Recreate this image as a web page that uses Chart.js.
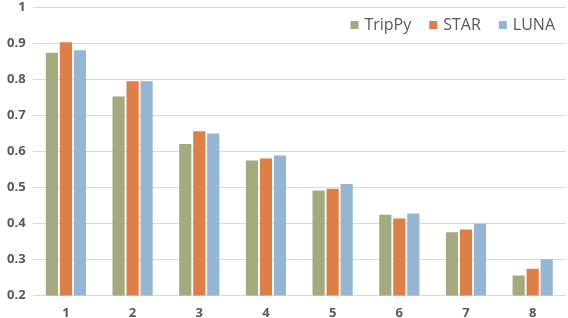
<!DOCTYPE html>
<html>
<head>
<meta charset="utf-8">
<script src="https://cdn.jsdelivr.net/npm/chart.js@4/dist/chart.umd.min.js"></script>
<style>
  html, body { margin: 0; padding: 0; background: #fff; }
  #wrap { width: 568px; height: 318px; }
</style>
</head>
<body>
<div id="wrap"><canvas id="chart"></canvas></div>
<script>
const categories = ['1', '2', '3', '4', '5', '6', '7', '8'];
const tripPy = [0.873, 0.752, 0.620, 0.574, 0.491, 0.424, 0.375, 0.255];
const star   = [0.902, 0.794, 0.655, 0.580, 0.496, 0.413, 0.383, 0.274];
const luna   = [0.880, 0.794, 0.649, 0.588, 0.509, 0.427, 0.399, 0.300];

const FONT = '"Open Sans", "Liberation Sans", sans-serif';
const GREY = '#595959';

// legend drawn inside the plot, top right
const insideLegend = {
  id: 'insideLegend',
  afterDraw(chart) {
    const ctx = chart.ctx;
    const sets = chart.data.datasets;
    ctx.save();
    ctx.font = '16px ' + FONT;
    ctx.textBaseline = 'middle';
    const widths = sets.map(d => ctx.measureText(d.label).width);
    const total = widths.reduce((a, w) => a + 14 + w, 0) + 18 * (sets.length - 1);
    let x = chart.chartArea.right - 11 - total;
    const y = 25;
    sets.forEach((d, i) => {
      ctx.fillStyle = d.backgroundColor;
      ctx.fillRect(x, y - 4, 8, 8);
      ctx.fillStyle = GREY;
      ctx.fillText(d.label, x + 14, y);
      x += 14 + widths[i] + 18;
    });
    ctx.restore();
  }
};

new Chart(document.getElementById('chart'), {
  type: 'bar',
  data: {
    labels: categories,
    datasets: [
      { label: 'TripPy', data: tripPy, backgroundColor: '#a3aa7d' },
      { label: 'STAR', data: star, backgroundColor: '#dd7f47' },
      { label: 'LUNA', data: luna, backgroundColor: '#94b5d3' }
    ]
  },
  options: {
    responsive: true,
    maintainAspectRatio: false,
    animation: false,
    layout: { padding: { top: 0, right: 2, bottom: -5, left: 0 } },
    datasets: { bar: { categoryPercentage: 0.63, barPercentage: 0.87 } },
    plugins: {
      tooltip: { enabled: false },
      legend: { display: false }
    },
    scales: {
      x: {
        grid: { display: false },
        border: { display: false },
        ticks: { color: GREY, font: { family: FONT, size: 13, weight: 'bold' }, padding: 2 }
      },
      y: {
        min: 0.2,
        max: 1,
        afterFit: scale => { scale.paddingTop = 7; },
        grid: { color: '#d9d9d9', lineWidth: 1, drawTicks: false },
        border: { display: false },
        ticks: {
          stepSize: 0.1,
          padding: 7,
          color: GREY,
          font: { family: FONT, size: 13, weight: 'bold' },
          callback: v => Math.round(v * 10) / 10
        }
      }
    }
  },
  plugins: [insideLegend]
});
</script>
</body>
</html>
